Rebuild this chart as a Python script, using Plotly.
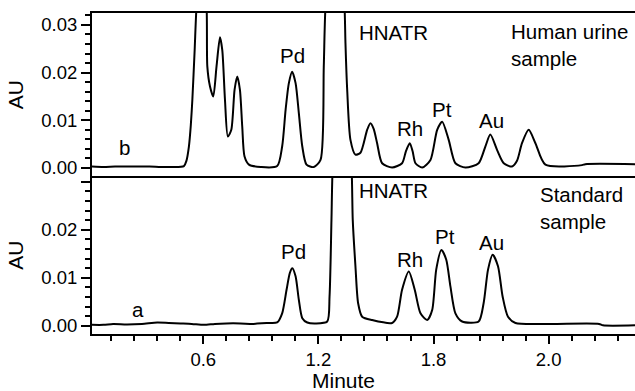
import plotly.graph_objects as go

# ---------------- data ----------------
# Human urine sample (panel b, top)
urine_min = [0.02, 0.08, 0.14, 0.20, 0.26, 0.32, 0.38, 0.44, 0.499, 0.512,
             0.525, 0.535, 0.543, 0.555, 0.565, 0.59, 0.617, 0.621, 0.635, 0.652,
             0.669, 0.687, 0.699, 0.713, 0.728, 0.746, 0.763, 0.777, 0.791, 0.803,
             0.815, 0.838, 0.90, 0.985, 1.011, 1.029, 1.046, 1.063, 1.081, 1.098,
             1.116, 1.138, 1.176, 1.211, 1.228, 1.237, 1.29, 1.336, 1.341, 1.35,
             1.367, 1.393, 1.419, 1.454, 1.471, 1.488, 1.506, 1.532, 1.584, 1.636,
             1.656, 1.676, 1.691, 1.706, 1.741, 1.784, 1.819, 1.845, 1.879, 1.914,
             1.966, 2.035, 2.07, 2.096, 2.131, 2.166, 2.209, 2.235, 2.261, 2.296,
             2.331, 2.383, 2.574, 2.591, 2.85]
urine_au = [0.0003, 0.0002, 0.0003, 0.0003, 0.0003, 0.0003, 0.0002, 0.0002, 0.0004, 0.0015,
            0.0045, 0.009, 0.0143, 0.0247, 0.034, 0.045, 0.034, 0.0213, 0.0171, 0.015,
            0.0213, 0.0274, 0.0247, 0.0143, 0.0066, 0.008, 0.0164, 0.0192, 0.0164, 0.0087,
            0.0024, 0.0007, 0.0002, 0.0004, 0.0045, 0.0122, 0.0178, 0.0202, 0.0178, 0.0115,
            0.0045, 0.0007, 0.0002, 0.0017, 0.0213, 0.034, 0.06, 0.034, 0.0262, 0.0164,
            0.0059, 0.0028, 0.0032, 0.008, 0.0094, 0.0082, 0.0052, 0.001, 0.0001, 0.001,
            0.0035, 0.0052, 0.0035, 0.001, 0.0001, 0.0017, 0.008, 0.0097, 0.0059, 0.001,
            0.0001, 0.001, 0.0045, 0.007, 0.0038, 0.001, 0.0003, 0.0015, 0.0052, 0.008,
            0.0052, 0.0007, 0.0006, 0.0008, 0.0008]

# Standard sample (panel a, bottom)
std_min = [0.02, 0.08, 0.13, 0.20, 0.28, 0.36, 0.42, 0.482, 0.54, 0.603,
           0.66, 0.72, 0.794, 0.86, 0.93, 0.985, 1.011, 1.034, 1.051, 1.064,
           1.081, 1.098, 1.116, 1.142, 1.185, 1.246, 1.258, 1.268, 1.275, 1.32,
           1.372, 1.379, 1.393, 1.407, 1.428, 1.48, 1.584, 1.61, 1.636, 1.671,
           1.702, 1.732, 1.767, 1.793, 1.814, 1.841, 1.866, 1.888, 1.914, 1.949,
           2.035, 2.061, 2.084, 2.108, 2.136, 2.16, 2.188, 2.227, 2.40, 2.663,
           2.683, 2.85]
std_au = [0.0002, 0.0002, 0.0004, 0.0003, 0.0004, 0.0007, 0.0006, 0.0005, 0.0004, 0.0002,
          0.0004, 0.0005, 0.0005, 0.0004, 0.0006, 0.0007, 0.0026, 0.0075, 0.011, 0.012,
          0.0103, 0.0054, 0.0016, 0.0007, 0.0005, 0.0009, 0.0061, 0.022, 0.034, 0.06,
          0.034, 0.022, 0.0124, 0.0047, 0.0019, 0.0012, 0.0006, 0.0019, 0.0075, 0.0113,
          0.0075, 0.0026, 0.0012, 0.0033, 0.0117, 0.0158, 0.0138, 0.0082, 0.0026, 0.0009,
          0.0009, 0.0047, 0.0117, 0.0148, 0.0124, 0.0061, 0.0019, 0.0006, 0.0004, 0.0004,
          0.0001, 0.0001]

# tick labels
x_tick_vals = [0.6, 1.2, 1.8, 2.4]
x_tick_text = ["0.6", "1.2", "1.8", "2.0"]
y_tick_vals = [0.0, 0.01, 0.02, 0.03]
y_top_tick_text = ["0.00", "0.01", "0.02", "0.03"]
y_bot_tick_text = ["0.00", "0.01", "0.02", ""]

# peak labels: (text, x, y)
top_labels = [("b", 0.19, 0.00425), ("Pd", 1.064, 0.0235), ("Rh", 1.677, 0.0082),
              ("Pt", 1.843, 0.0122), ("Au", 2.10, 0.0099)]
bot_labels = [("a", 0.258, 0.00346), ("Pd", 1.072, 0.0154), ("Rh", 1.675, 0.0139),
              ("Pt", 1.858, 0.0186), ("Au", 2.103, 0.0174)]

FONT = "Liberation Sans, Arial, Helvetica, sans-serif"

fig = go.Figure()
fig.add_trace(go.Scatter(x=urine_min, y=urine_au, mode="lines", xaxis="x2", yaxis="y2",
                         line=dict(color="black", width=2, shape="spline", smoothing=0.7),
                         showlegend=False, hoverinfo="skip"))
fig.add_trace(go.Scatter(x=std_min, y=std_au, mode="lines", xaxis="x", yaxis="y",
                         line=dict(color="black", width=2, shape="spline", smoothing=0.7),
                         showlegend=False, hoverinfo="skip"))

split = 0.491
yax_common = dict(showgrid=False, zeroline=False, showline=True, linewidth=2, linecolor="black",
                  automargin=False,
                  ticks="outside", ticklen=9, tickwidth=2, tickcolor="black",
                  tickmode="array", tickvals=y_tick_vals,
                  minor=dict(tickmode="linear", tick0=0, dtick=0.002, ticks="outside",
                             ticklen=5, tickwidth=2, tickcolor="black"),
                  tickfont=dict(family=FONT, size=18.5, color="black"),
                  title=dict(text="AU", font=dict(family=FONT, size=21, color="black"), standoff=12))

fig.update_layout(
    width=635, height=391,
    margin=dict(l=92, r=0, t=13, b=57, autoexpand=False),
    paper_bgcolor="white", plot_bgcolor="white",
    font=dict(family=FONT, color="black"),
    xaxis=dict(domain=[0, 1], anchor="y", range=[0.02, 2.85], showgrid=False, zeroline=False,
               automargin=False,
               showline=True, mirror=False, linewidth=2, linecolor="black",
               tickmode="array", tickvals=x_tick_vals, ticktext=x_tick_text,
               ticks="outside", ticklen=8, tickwidth=2, tickcolor="black",
               minor=dict(tickmode="linear", tick0=0, dtick=0.12, ticks="outside",
                          ticklen=5, tickwidth=2, tickcolor="black"),
               tickfont=dict(family=FONT, size=18.5, color="black")),
    xaxis2=dict(domain=[0, 1], anchor="y2", matches="x", showgrid=False, zeroline=False,
                automargin=False,
                showline=True, mirror=True, linewidth=2, linecolor="black",
                showticklabels=False, ticks=""),
    yaxis=dict(domain=[0, split], anchor="x", range=[-0.0017, 0.0311],
               ticktext=y_bot_tick_text, **yax_common),
    yaxis2=dict(domain=[split, 1], anchor="x2", range=[-0.00176, 0.0325],
                ticktext=y_top_tick_text, **yax_common),
)

ann_font = dict(family=FONT, size=20.5, color="black")
annotations = []
for t, x, y in top_labels:
    annotations.append(dict(text=t, x=x, y=y, xref="x2", yref="y2", showarrow=False,
                            xanchor="center", yanchor="middle", font=ann_font))
for t, x, y in bot_labels:
    annotations.append(dict(text=t, x=x, y=y, xref="x", yref="y", showarrow=False,
                            xanchor="center", yanchor="middle", font=ann_font))
annotations += [
    dict(text="HNATR", x=1.402, y=0.0285, xref="x2", yref="y2", showarrow=False,
         xanchor="left", yanchor="middle", font=ann_font),
    dict(text="Human urine<br>sample", x=2.192, y=0.0258, xref="x2", yref="y2", showarrow=False,
         xanchor="left", yanchor="middle", align="left", font=ann_font),
    dict(text="HNATR", x=1.402, y=0.0281, xref="x", yref="y", showarrow=False,
         xanchor="left", yanchor="middle", font=ann_font),
    dict(text="Standard<br>sample", x=2.345, y=0.0245, xref="x", yref="y", showarrow=False,
         xanchor="left", yanchor="middle", align="left", font=ann_font),
    dict(text="Minute", x=0.464, y=-0.146, xref="paper", yref="paper", showarrow=False,
         xanchor="center", yanchor="middle", font=dict(family=FONT, size=21, color="black")),
]
fig.update_layout(annotations=annotations)

# remove the browser's default page margin so the figure sits at the window's top-left corner
fig.write_html("out.html", include_plotlyjs=True, config={"displayModeBar": False},
               post_script="document.body.style.margin='0';document.body.style.padding='0';")
